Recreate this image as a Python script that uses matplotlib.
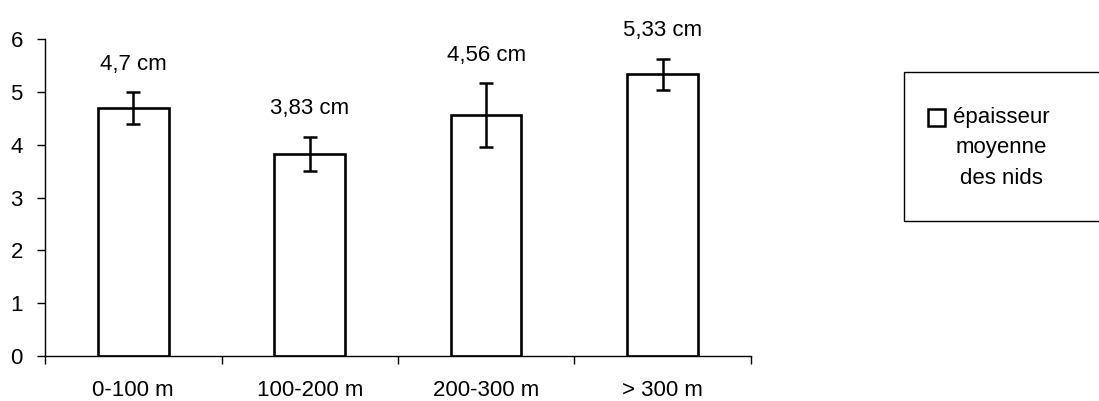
import matplotlib.pyplot as plt
from matplotlib.patches import Rectangle

plt.rcParams['font.family'] = ['Liberation Sans', 'DejaVu Sans']

# données
categories = ['0-100 m', '100-200 m', '200-300 m', '> 300 m']
epaisseur = [4.7, 3.83, 4.56, 5.33]
erreurs = [0.3, 0.32, 0.6, 0.3]
etiquettes = ['4,7 cm', '3,83 cm', '4,56 cm', '5,33 cm']
legende = ['épaisseur', 'moyenne', 'des nids']

fig = plt.figure(figsize=(10.99, 4.01), dpi=100)
ax = fig.add_axes([0.041, 0.1122, 0.6422, 0.7905])

x = [i + 0.5 for i in range(len(categories))]
ax.bar(x, epaisseur, width=0.4, color='white', edgecolor='black', linewidth=1.9)
ax.errorbar(x, epaisseur, yerr=erreurs, fmt='none', ecolor='black',
            elinewidth=1.8, capsize=5, capthick=1.8)

for xi, v, e, t in zip(x, epaisseur, erreurs, etiquettes):
    ax.annotate(t, (xi, v + e), xytext=(0, 20), textcoords='offset points',
                ha='center', va='center', fontsize=16)

ax.set_xlim(0, len(categories))
ax.set_ylim(0, 6)
ax.set_yticks(range(7))
ax.set_xticks(range(len(categories) + 1))
ax.set_xticklabels([])
ax.set_xticks(x, minor=True)
ax.set_xticklabels(categories, minor=True)
ax.tick_params(axis='x', which='minor', length=0, pad=17, labelsize=16)
ax.tick_params(axis='x', which='major', length=6, width=1, direction='out')
ax.tick_params(axis='y', length=6, width=1, direction='out', labelsize=16, pad=10)
for s in ['top', 'right']:
    ax.spines[s].set_visible(False)
for s in ['left', 'bottom']:
    ax.spines[s].set_linewidth(1)

# légende dessinée à la main (cadre coupé à droite comme l'original)
fig.patches.append(Rectangle((0.8226, 0.449), 0.2, 0.3716, transform=fig.transFigure,
                             fill=False, edgecolor='black', linewidth=1))
fig.patches.append(Rectangle((0.8445, 0.687), 0.0155, 0.04, transform=fig.transFigure,
                             fill=False, edgecolor='black', linewidth=1.8))
for i, t in enumerate(legende):
    fig.text(0.9115, 0.708 - i * 0.076, t, ha='center', va='center', fontsize=16)

fig.savefig('out.png', dpi=100)
